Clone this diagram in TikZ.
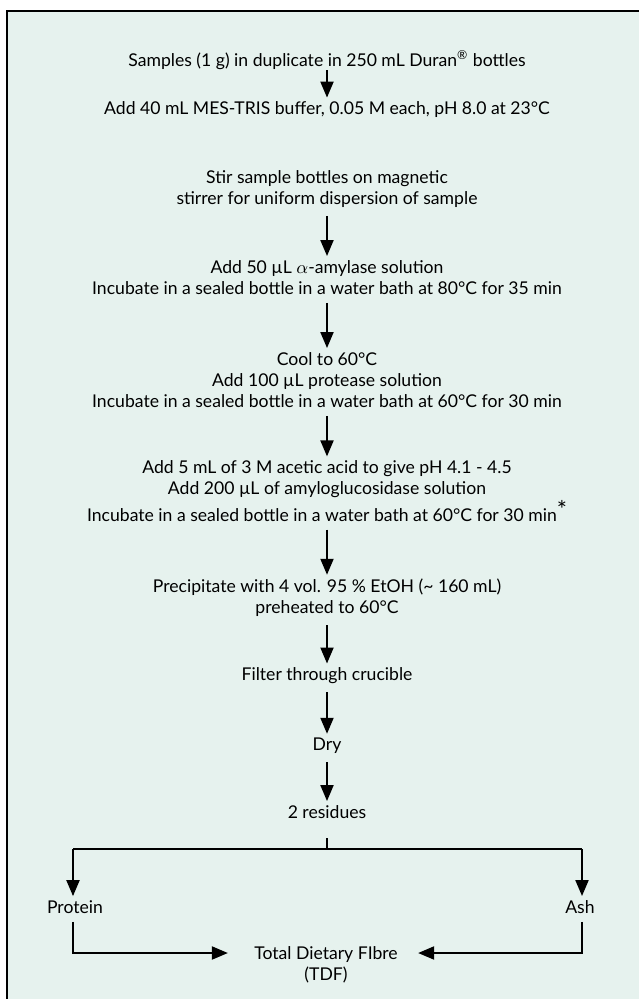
\documentclass[tikz,border=0pt]{standalone}
\usepackage{fontspec}
\setmainfont{Lato}
\usetikzlibrary{arrows.meta}
\definecolor{bgmint}{RGB}{230,242,238}
\begin{document}
\begin{tikzpicture}[x=0.5pt,y=-0.5pt,
  txt/.style={align=center,font=\fontsize{8.8}{10.5}\selectfont,inner sep=0pt},
  flow/.style={-{Triangle[length=8pt,width=6.5pt]},line width=1pt,shorten <=4pt,shorten >=2pt},
  plain/.style={line width=1pt}]
\useasboundingbox (0,0) rectangle (638,999);
\fill[white] (0,0) rectangle (638,999);
\fill[bgmint] (6.5,11) rectangle (642,1003);
\draw[line width=1pt] (6.5,1003) -- (6.5,11) -- (642,11);

\node[txt] (s1) at (327,60) {Samples (1 g) in duplicate in 250 mL Duran\textsuperscript{\textregistered} bottles};
\node[txt] (s2) at (327,110) {Add 40 mL MES-TRIS buffer, 0.05 M each, pH 8.0 at 23°C};
\node[txt] (s3) at (327,189) {Stir sample bottles on magnetic\\stirrer for uniform dispersion of sample};
\node[txt] (s4) at (327,277.5) {Add 50 µL $\alpha$-amylase solution\\Incubate in a sealed bottle in a water bath at 80°C for 35 min};
\node[txt] (s5) at (327,380) {Cool to 60°C\\Add 100 µL protease solution\\Incubate in a sealed bottle in a water bath at 60°C for 30 min};
\node[txt] (s6) at (327,491) {Add 5 mL of 3 M acetic acid to give pH 4.1 - 4.5\\Add 200 µL of amyloglucosidase solution\\Incubate in a sealed bottle in a water bath at 60°C for 30 min\raisebox{1.5pt}{\fontsize{12}{12}\selectfont *}};
\node[txt] (s7) at (327,598) {Precipitate with 4 vol. 95 \% EtOH (\textasciitilde{} 160 mL)\\preheated to 60°C};
\node[txt] (s8) at (327,676) {Filter through crucible};
\node[txt] (s9) at (327,746) {Dry};
\node[txt] (s10) at (327,812) {2 residues};
\node[txt] (p) at (75,907) {Protein};
\node[txt] (a) at (580,907) {Ash};
\node[txt] (t) at (326,965) {Total Dietary FIbre\\(TDF)};

\coordinate (stub) at (327,838);
\coordinate (br) at (327,849);
\coordinate (bl) at (73,849);
\coordinate (bR) at (582,849);
\coordinate (pl) at (73,953);
\coordinate (aR) at (582,953);

\draw[flow,shorten <=0pt] (s1) -- (s2);
\draw[flow] (s3) -- (s4);
\draw[flow] (s4) -- (s5);
\draw[flow] (s5) -- (s6);
\draw[flow] (s6) -- (s7);
\draw[flow] (s7) -- (s8);
\draw[flow] (s8) -- (s9);
\draw[flow] (s9) -- (s10);
\draw[plain] (stub) -- (br);
\draw[plain] (bl) -- (bR);
\draw[flow,shorten <=0pt] (bl) -- (bl |- p.north);
\draw[flow,shorten <=0pt] (bR) -- (bR |- a.north);
\draw[flow,shorten >=13pt] (bl |- p.south) -- (pl) -- (t.west |- pl);
\draw[flow,shorten >=10pt] (aR |- a.south) -- (aR) -- (t.east |- aR);
\end{tikzpicture}
\end{document}
